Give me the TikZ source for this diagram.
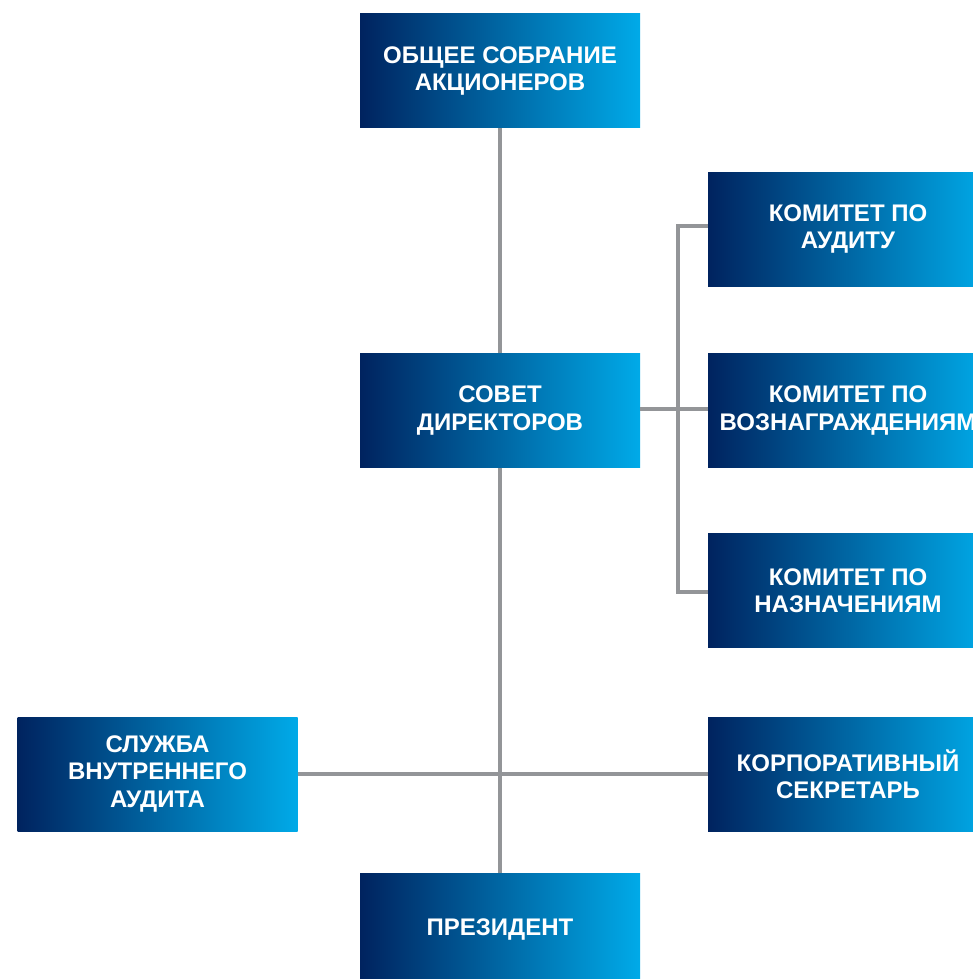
\documentclass[tikz,border=0pt]{standalone}
\usepackage{fontspec}
\setmainfont{Liberation Sans}
\definecolor{navy}{RGB}{0,35,95}
\definecolor{cyanb}{RGB}{0,170,232}
\definecolor{linegray}{RGB}{147,149,152}
\begin{document}
\begin{tikzpicture}[x=1pt,y=-1pt,
  orgbox/.style={rectangle, minimum width=280pt, minimum height=114pt, inner sep=0pt,
    left color=navy, right color=cyanb, draw=none, text=white, align=center,
    font=\fontsize{24}{27.5}\selectfont\bfseries},
  conn/.style={draw=linegray, line width=3.5pt}]
\useasboundingbox (0,0) rectangle (972,979);
\node[orgbox] (gsm) at (500,71) {ОБЩЕЕ СОБРАНИЕ\\АКЦИОНЕРОВ};
\node[orgbox] (sd) at (500,410.5) {СОВЕТ\\ДИРЕКТОРОВ};
\node[orgbox] (audit) at (848,229) {КОМИТЕТ ПО\\АУДИТУ};
\node[orgbox] (remun) at (848,410.5) {КОМИТЕТ ПО\\ВОЗНАГРАЖДЕНИЯМ};
\node[orgbox] (nomin) at (848,590.5) {КОМИТЕТ ПО\\НАЗНАЧЕНИЯМ};
\node[orgbox] (corp) at (848,774) {КОРПОРАТИВНЫЙ\\СЕКРЕТАРЬ};
\node[orgbox] (ia) at (157.5,774) {СЛУЖБА\\ВНУТРЕННЕГО\\АУДИТА};
\node[orgbox] (pres) at (500,930) {ПРЕЗИДЕНТ};
\coordinate (busx) at (678,0);
\coordinate (auditin) at ([yshift=3pt]audit.west);
\coordinate (nominin) at ([yshift=-1.5pt]nomin.west);
\draw[conn] (gsm) -- (sd);
\draw[conn] (sd) -- (pres);
\draw[conn] (ia) -- (corp);
\draw[conn] ([yshift=1.5pt]sd.east) -- ([yshift=1.5pt]remun.west);
\draw[conn] (auditin) -- (auditin -| busx) -- (nominin -| busx) -- (nominin);
\end{tikzpicture}
\end{document}
